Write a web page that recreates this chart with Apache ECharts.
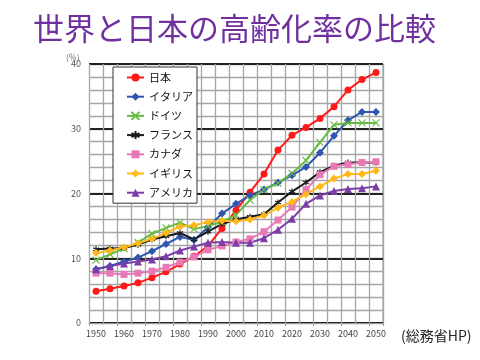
<!DOCTYPE html>
<html><head><meta charset="utf-8">
<script src="https://cdn.jsdelivr.net/npm/echarts@6/dist/echarts.min.js"></script>
<style>html,body{margin:0;padding:0;background:#fff}#c{width:480px;height:360px}</style>
</head><body><div id="c"></div>
<script>
var years = ["1950","1955","1960","1965","1970","1975","1980","1985","1990","1995","2000","2005","2010","2015","2020","2025","2030","2035","2040","2045","2050"];
var japan   = [4.9, 5.3, 5.7, 6.2, 7.0, 7.9, 9.1, 10.3, 11.9, 14.6, 17.4, 20.2, 23.0, 26.7, 29.0, 30.2, 31.6, 33.4, 36.0, 37.6, 38.7];
var italy   = [8.3, 8.8, 9.5, 10.1, 11.1, 12.2, 13.3, 12.8, 14.8, 16.9, 18.4, 19.7, 20.6, 21.7, 22.8, 24.1, 26.3, 28.9, 31.3, 32.6, 32.6];
var germany = [9.7, 10.6, 11.5, 12.4, 13.8, 14.7, 15.5, 14.5, 15.0, 15.6, 16.7, 19.0, 20.6, 21.6, 23.1, 25.1, 27.9, 30.6, 30.9, 30.9, 30.9];
var france  = [11.4, 11.5, 11.6, 12.1, 12.9, 13.4, 13.9, 12.9, 14.1, 15.3, 16.0, 16.4, 16.8, 18.6, 20.3, 21.7, 23.3, 24.3, 24.8, 24.8, 24.8];
var canada  = [7.7, 7.7, 7.5, 7.7, 8.0, 8.6, 9.4, 10.2, 11.3, 11.9, 12.5, 13.0, 14.1, 15.9, 17.9, 20.6, 22.9, 24.2, 24.5, 24.8, 24.9];
var uk      = [10.8, 11.2, 11.7, 12.3, 13.0, 13.9, 14.9, 15.1, 15.6, 15.8, 15.7, 16.0, 16.6, 17.8, 18.7, 19.9, 21.1, 22.3, 23.0, 23.0, 23.5];
var usa     = [8.3, 8.8, 9.2, 9.5, 9.8, 10.3, 11.2, 11.8, 12.4, 12.5, 12.4, 12.4, 13.1, 14.4, 16.1, 18.4, 19.7, 20.4, 20.7, 20.8, 21.1];
var names = ["日本","イタリア","ドイツ","フランス","カナダ","イギリス","アメリカ"];
var yTicks = [0, 10, 20, 30, 40];

var FONT = "'Noto Sans CJK JP', 'Noto Sans', sans-serif";
var defs = [
  {d: japan,   c: "#ff1a1a", s: "circle", z: 7},
  {d: italy,   c: "#2f55b0", s: "diamond", z: 8},
  {d: germany, c: "#66bb44", s: "path://M0,0L10,10M10,0L0,10", z: 7},
  {d: france,  c: "#1a1a1a", s: "path://M5,0L5,10M0,2.5L10,7.5M0,7.5L10,2.5", z: 6},
  {d: canada,  c: "#e879b6", s: "rect", z: 7},
  {d: uk,      c: "#ffb818", s: "diamond", z: 8},
  {d: usa,     c: "#7a3ea6", s: "triangle", z: 8}
];
var series = defs.map(function (o, i) {
  var open = (i === 2 || i === 3);
  return {
    name: names[i], type: "line", data: o.d, yAxisIndex: 0,
    symbol: o.s, symbolSize: o.z, showSymbol: true,
    lineStyle: {color: o.c, width: 2},
    itemStyle: {color: open ? "rgba(0,0,0,0)" : o.c, borderColor: o.c, borderWidth: open ? 1.2 : 0},
    emphasis: {disabled: true}, animation: false
  };
});

var chart = echarts.init(document.getElementById("c"), null, {renderer: "canvas"});
chart.setOption({
  animation: false,
  backgroundColor: "#fff",
  title: {text: "世界と日本の高齢化率の比較", left: 28, top: 8,
    textStyle: {fontFamily: FONT, fontSize: 31, fontWeight: "normal", color: "#7030a0"}},
  grid: {left: 89, right: 97, top: 64, bottom: 37, show: false},
  legend: {
    data: names, orient: "vertical", left: 113, top: 67,
    backgroundColor: "#fff", borderColor: "#333", borderWidth: 1, borderRadius: 0,
    padding: [5, 4, 5, 13], itemGap: 8.2, itemWidth: 17, itemHeight: 10,
    textStyle: {fontFamily: FONT, fontSize: 11, color: "#111"},
    selectedMode: false
  },
  xAxis: {
    type: "category", data: years, boundaryGap: true,
    axisLine: {lineStyle: {color: "#999", width: 1}},
    axisTick: {show: true, length: 3, lineStyle: {color: "#999"}},
    axisLabel: {interval: 1, color: "#444", fontSize: 9, fontFamily: FONT, margin: 6},
    splitLine: {show: true, interval: 0, lineStyle: {color: "#a6a6a6", width: 1.3}}
  },
  yAxis: [
    {type: "value", min: 0, max: 40, interval: 2,
     axisLine: {show: false}, axisTick: {show: false}, axisLabel: {show: false},
     splitLine: {show: true, lineStyle: {color: "#a6a6a6", width: 1.3}}},
    {type: "value", min: yTicks[0], max: yTicks[yTicks.length - 1], interval: 10, position: "left",
     axisLine: {show: false}, axisTick: {show: false},
     axisLabel: {color: "#555", fontSize: 9, fontFamily: FONT, margin: 8},
     splitLine: {show: true, lineStyle: {color: "#222", width: 2}}}
  ],
  graphic: [
    {type: "text", left: 66, top: 53, style: {text: "(％)", fontSize: 8, fill: "#666", fontFamily: FONT}},
    {type: "rect", shape: {x: 383, y: 64, width: 0, height: 259}, style: {stroke: "#a6a6a6", lineWidth: 1.3}},
    {type: "text", left: 401, top: 329, style: {text: "(総務省HP)", fontSize: 14, fill: "#222", fontFamily: FONT}}
  ],
  series: series
});
</script></body></html>
